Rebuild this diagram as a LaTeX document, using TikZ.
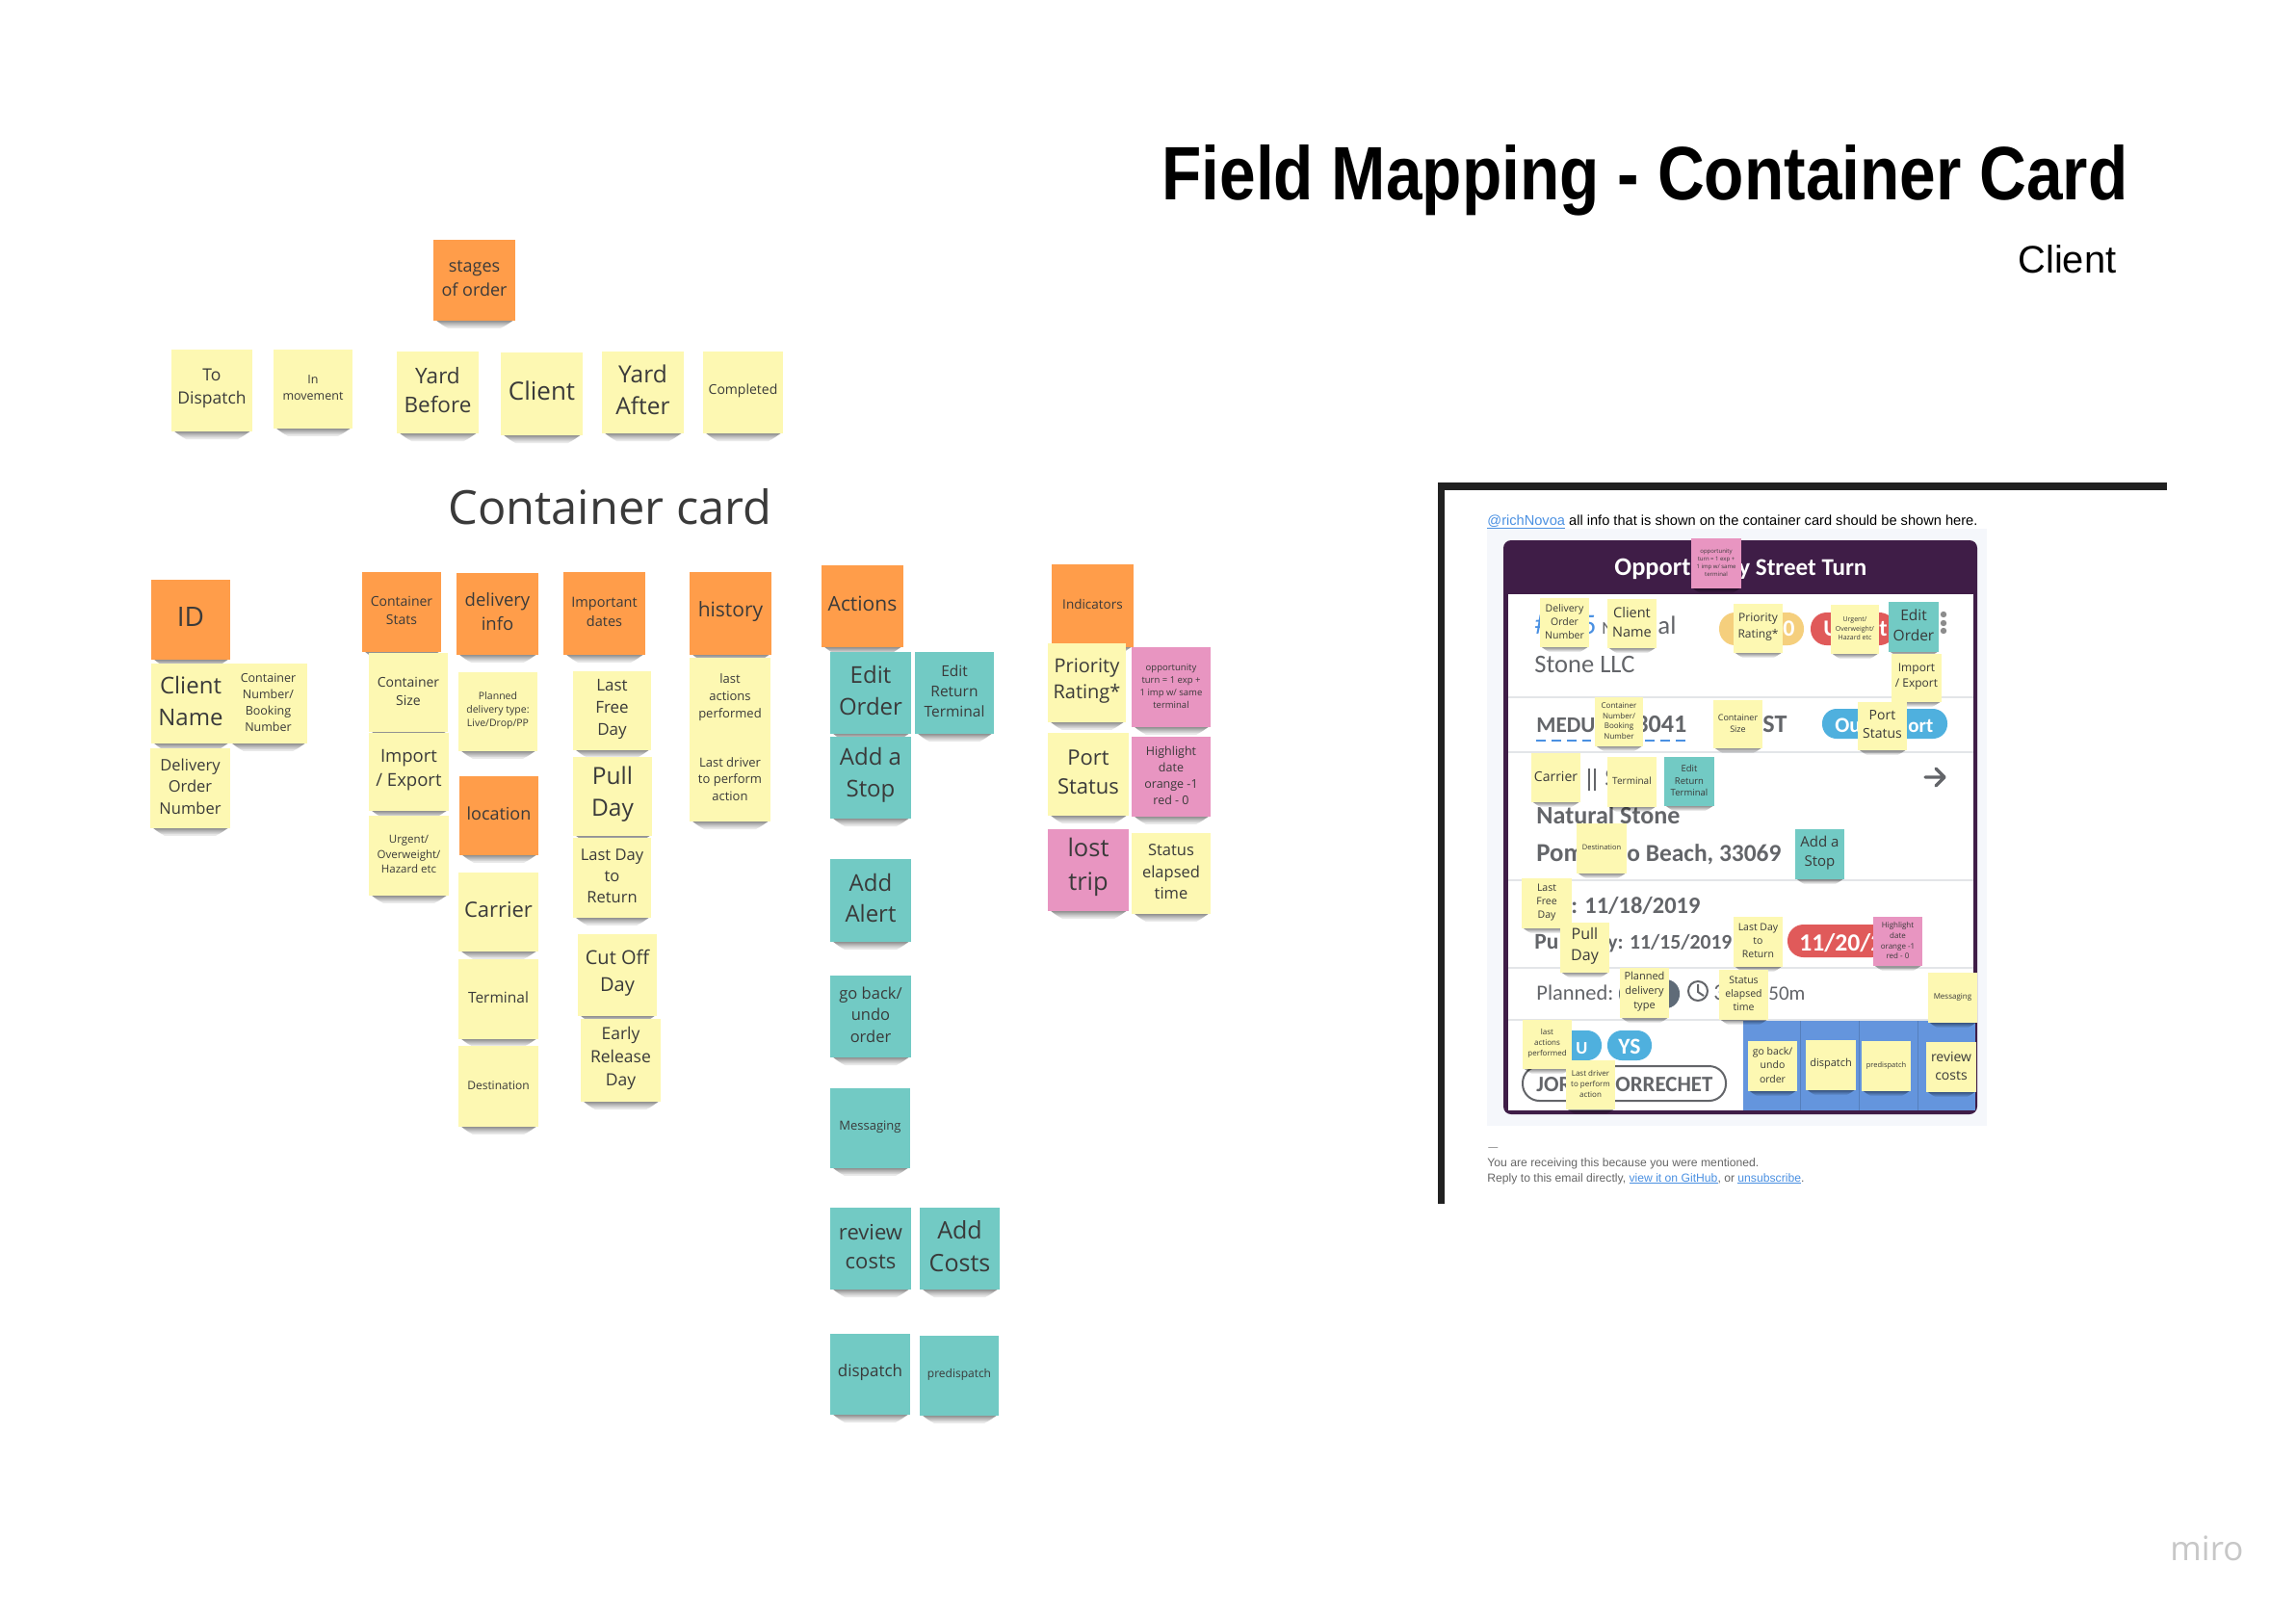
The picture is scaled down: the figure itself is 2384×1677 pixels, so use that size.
\documentclass[tikz,border=0pt]{standalone}
\usepackage{fontspec}
\usepackage{graphicx}
\setmainfont{Open Sans}
\newfontfamily\arl{Liberation Sans}
\newfontfamily\csf{Carlito}
\definecolor{yel}{HTML}{FDF8B2}
\definecolor{ora}{HTML}{FF9D4A}
\definecolor{tea}{HTML}{72CAC4}
\definecolor{pnk}{HTML}{E895C1}
\definecolor{inkc}{HTML}{3A3A3A}
\definecolor{purp}{HTML}{3F1D47}
\definecolor{cardg}{HTML}{636569}
\definecolor{panel}{HTML}{F5F7FB}
\definecolor{lnk}{HTML}{4A90E2}
\definecolor{blk}{HTML}{6495DD}
\definecolor{sky}{HTML}{4FB0DE}
\definecolor{redp}{HTML}{E05A5A}
\definecolor{yelp}{HTML}{F5CF7D}
\definecolor{sep}{HTML}{E3E5E8}
\definecolor{darkp}{HTML}{5F6B78}
\newcounter{nc}
\tikzset{
  stickybox/.style={inner sep=0pt},
  stickynote/.style={inner sep=0pt,align=center,text=inkc},
  placed/.style={anchor=base west,inner sep=0pt},
  shadelayer/.style={fill=black,opacity=.085},
}
% x1 x2 y1 y2 fill size text
\newcommand\sk[7]{%
  \pgfmathsetmacro\cxx{(#1+#2)/2}\pgfmathsetmacro\cyy{(#3+#4)/2}%
  \pgfmathsetmacro\ww{(#2-#1)}\pgfmathsetmacro\hh{(#4-#3)}%
  \pgfmathsetmacro\fsz{#6*0.5}\pgfmathsetmacro\lsz{#6*0.68}%
  \pgfmathsetmacro\upp{#6*0.055}%
  \foreach \dd/\ii in {.012/.05,.025/.07,.04/.09,.055/.11,.075/.14,.095/.18}{%
    \fill[shadelayer] ({#1+.04*\ww},#4) -- ({#2-.03*\ww},#4) -- ({#2-\ii*\ww},{#4+\dd*\hh}) -- ({#1+\ii*\ww},{#4+\dd*\hh}) -- cycle;}%
  \stepcounter{nc}%
  \node[stickybox,name=note\arabic{nc},fill=#5,minimum width=\ww*0.5pt,minimum height=\hh*0.5pt] at (\cxx,\cyy) {};%
  \node[stickynote,name=label\arabic{nc},font=\fontsize{\fsz pt}{\lsz pt}\selectfont] at ([yshift=\upp pt]note\arabic{nc}.center) {#7};%
}
% x1 x2 baseline colour font text : fitted to width
\newcommand\fitt[6]{%
  \pgfmathsetmacro\ww{(#2-#1)*0.5}%
  \stepcounter{nc}%
  \node[placed,name=text\arabic{nc},text=#4] at (#1,#3) {\resizebox{\ww pt}{!}{\fontsize{20pt}{24pt}\selectfont #5#6}};%
}
% x baseline size colour font text
\newcommand\plc[6]{%
  \pgfmathsetmacro\fsz{#3*0.5}%
  \stepcounter{nc}%
  \node[placed,name=text\arabic{nc},text=#4,font=\fontsize{\fsz pt}{\fsz pt}\selectfont #5] at (#1,#2) {#6};%
}
\begin{document}
\begin{tikzpicture}[x=0.5pt,y=-0.5pt]
\useasboundingbox (0,0) rectangle (2384,1677);
\fill[white] (0,0) rectangle (2384,1677);

% titles
\stepcounter{nc}
\node[placed,name=title] at (1206,207) {\resizebox{501.5pt}{28.5pt}{\fontsize{20pt}{24pt}\selectfont\arl\bfseries Field Mapping - Container Card}};
\fitt{2095}{2197}{283}{black}{\arl}{Client}
\fitt{465}{801}{544}{inkc}{}{Container card}
\fitt{2253}{2329}{1620}{black!22}{}{miro}

% top row
\sk{450}{535}{249}{333}{ora}{18}{stages\\of order}
\sk{178}{262}{363}{448}{yel}{17.5}{To\\Dispatch}
\sk{284}{366}{363}{445}{yel}{12.5}{In\\movement}
\sk{412}{497}{365}{450}{yel}{22.5}{Yard\\Before}
\sk{520}{605}{366}{452}{yel}{26}{Client}
\sk{625}{710}{365}{450}{yel}{24.5}{Yard\\After}
\sk{730}{813}{365}{450}{yel}{14}{Completed}

% ID column
\sk{157}{239}{602}{685}{ora}{28}{ID}
\sk{157}{239}{689}{772}{yel}{24}{Client\\Name}
\sk{238}{319}{689}{772}{yel}{12.5}{Container\\Number/\\Booking\\Number}
\sk{156}{239}{777}{860}{yel}{16.5}{Delivery\\Order\\Number}

% container stats
\sk{376}{458}{594}{677}{ora}{14}{Container\\Stats}
\sk{383}{465}{678}{760}{yel}{14}{Container\\Size}
\sk{383}{466}{761}{842}{yel}{18.5}{Import\\/ Export}
\sk{383}{466}{847}{930}{yel}{11.5}{Urgent/\\Overweight/\\Hazard etc}

% delivery info
\sk{474}{559}{595}{680}{ora}{18.5}{delivery\\info}
\sk{476}{558}{698}{780}{yel}{10.5}{Planned\\delivery type:\\Live/Drop/PP}
\sk{477}{559}{806}{888}{ora}{18}{location}
\sk{476}{559}{906}{988}{yel}{22}{Carrier}
\sk{476}{559}{996}{1079}{yel}{15.5}{Terminal}
\sk{476}{559}{1086}{1170}{yel}{12}{Destination}

% dates
\sk{585}{670}{594}{680}{ora}{14.5}{Important\\dates}
\sk{595}{676}{697}{779}{yel}{17}{Last\\Free\\Day}
\sk{595}{677}{786}{868}{yel}{24.5}{Pull\\Day}
\sk{595}{676}{870}{953}{yel}{16.5}{Last Day\\to\\Return}
\sk{600}{682}{970}{1055}{yel}{20}{Cut Off\\Day}
\sk{603}{686}{1058}{1144}{yel}{17.5}{Early\\Release\\Day}

% history
\sk{716}{801}{594}{680}{ora}{21}{history}
\sk{716}{800}{683}{768}{yel}{13}{last\\actions\\performed}
\sk{716}{800}{768}{853}{yel}{13}{Last driver\\to perform\\action}

% actions
\sk{853}{938}{587}{672}{ora}{21}{Actions}
\sk{862}{946}{677}{762}{tea}{24}{Edit\\Order}
\sk{950}{1032}{677}{762}{tea}{15.5}{Edit\\Return\\Terminal}
\sk{862}{946}{765}{850}{tea}{24}{Add a\\Stop}
\sk{862}{946}{892}{978}{tea}{24}{Add\\Alert}
\sk{862}{946}{1013}{1098}{tea}{16.5}{go back/\\undo\\order}
\sk{862}{945}{1130}{1213}{tea}{13}{Messaging}
\sk{862}{946}{1254}{1339}{tea}{22}{review\\costs}
\sk{955}{1038}{1254}{1339}{tea}{25}{Add\\Costs}
\sk{862}{945}{1385}{1469}{tea}{17}{dispatch}
\sk{955}{1037}{1387}{1470}{tea}{12}{predispatch}

% indicators
\sk{1092}{1177}{586}{672}{ora}{13.5}{Indicators}
\sk{1088}{1169}{668}{750}{yel}{20}{Priority\\Rating*}
\sk{1175}{1257}{672}{755}{pnk}{9.5}{opportunity\\turn = 1 exp +\\1 imp w/ same\\terminal}
\sk{1088}{1172}{761}{847}{yel}{22}{Port\\Status}
\sk{1175}{1257}{765}{848}{pnk}{12.5}{Highlight\\date\\orange -1\\red - 0}
\sk{1088}{1172}{861}{946}{pnk}{25.5}{lost\\trip}
\sk{1175}{1257}{865}{949}{yel}{16.5}{Status\\elapsed\\time}

% ---------- screenshot ----------
\fill[black!87] (1493,501) rectangle (2250,509);
\fill[black!87] (1493,501) rectangle (1500,1250);
\fitt{1544}{2053}{545}{black}{\arl}{\textcolor{lnk}{\underline{@richNovoa}} all info that is shown on the container card should be shown here.}
\fill[panel] (1544,549) rectangle (2063,1169);
\fill[purp,rounded corners=4pt] (1561,561) rectangle (2053,1157);
\fill[white] (1566,617) rectangle (2049,1153);
% separators
\foreach \yy in {724,781,914,1005,1059}{\fill[sep] (1566,\yy-1) rectangle (2049,\yy+1);}
% blue action block
\fill[blk] (1810,1060) rectangle (2051,1153);
\foreach \xx in {1869,1930,1991}{\draw[blk!85!black,line width=0.5pt] (\xx,1060) -- (\xx,1153);}
% header
\fitt{1676}{1755}{597}{white}{\csf\bfseries}{Opport}
\fitt{1805}{1938}{597}{white}{\csf\bfseries}{y Street Turn}
% row 1
\plc{1593}{658}{30}{lnk}{\csf}{\#}
\plc{1642}{658}{30}{lnk}{\csf}{5}
\fitt{1663}{1675}{658}{cardg}{\csf}{N}
\fitt{1721}{1740}{658}{cardg}{\csf}{al}
\fitt{1593}{1697}{698}{cardg}{\csf}{Stone LLC}
\fill[yelp,rounded corners=8.3pt] (1785,636) rectangle (1873,670);
\plc{1851}{660}{24}{white}{\csf\bfseries}{0}
\fill[redp,rounded corners=8.3pt] (1880,636) rectangle (1968,670);
\plc{1893}{660}{24}{white}{\csf\bfseries}{U}
\plc{1951}{660}{24}{white}{\csf\bfseries}{t}
\foreach \yy in {638,647,655}{\fill[black!45] (2018,\yy) circle (3.2);}
% row 2
\fitt{1595}{1656}{760}{cardg}{\csf\bfseries}{MEDU}
\fitt{1698}{1751}{760}{cardg}{\csf\bfseries}{3041}
\fitt{1830}{1855}{760}{cardg}{\csf\bfseries}{ST}
\draw[lnk,line width=1.2pt,dash pattern=on 5pt off 3pt] (1595,769) -- (1652,769);
\draw[lnk,line width=1.2pt,dash pattern=on 5pt off 3pt] (1708,769) -- (1751,769);
\fill[sky,rounded corners=7.5pt] (1892,736) rectangle (2022,767);
\fitt{1905}{1932}{760}{white}{\csf\bfseries}{Ou}
\fitt{1981}{2007}{760}{white}{\csf\bfseries}{ort}
% row 3
\draw[cardg,line width=0.9pt] (1650,798) -- (1650,821) (1656,798) -- (1656,821);
\plc{1666}{816}{27}{cardg}{\csf}{S}
\draw[cardg,line width=1.7pt,line cap=round,line join=round] (1999,807) -- (2019,807) (2010,798) -- (2019,807) -- (2010,816);
\fitt{1595}{1744}{855}{cardg}{\csf\bfseries}{Natural Stone}
\fitt{1595}{1645}{894}{cardg}{\csf\bfseries}{Pom}
\fitt{1689}{1849}{894}{cardg}{\csf\bfseries}{o Beach, 33069}
% dates
\fitt{1631}{1765}{948}{cardg}{\csf\bfseries}{: 11/18/2019}
\fitt{1593}{1618}{985}{cardg}{\csf\bfseries}{Pu}
\fitt{1669}{1798}{985}{cardg}{\csf\bfseries}{y: 11/15/2019}
\fill[redp,rounded corners=8.3pt] (1856,960) rectangle (1960,994);
\fitt{1868}{1955}{987}{white}{\csf\bfseries}{11/20/2}
% planned
\fitt{1595}{1675}{1038}{cardg}{\csf}{Planned:}
\fill[darkp,rounded corners=7.3pt] (1681,1017) rectangle (1744,1047);
\draw[cardg,line width=1pt] (1763,1029) circle (10);
\draw[cardg,line width=1pt] (1763,1022) -- (1763,1030) -- (1769,1034);
\plc{1779}{1038}{24}{cardg}{\csf}{3}
\fitt{1836}{1874}{1038}{cardg}{\csf}{50m}
% people
\fill[sky,rounded corners=7.5pt] (1618,1070) rectangle (1663,1101);
\fill[sky,rounded corners=7.5pt] (1669,1070) rectangle (1715,1101);
\fitt{1636}{1648}{1094}{white}{\csf\bfseries}{U}
\fitt{1680}{1703}{1094}{white}{\csf\bfseries}{YS}
\draw[cardg,line width=1pt,rounded corners=8.7pt] (1581,1107) rectangle (1792,1143);
\fitt{1595}{1631}{1133}{cardg}{\csf\bfseries}{JOR}
\fitt{1677}{1778}{1133}{cardg}{\csf\bfseries}{ORRECHET}
% footer
\fitt{1545}{1555}{1194}{black!55}{\arl}{—}
\fitt{1544}{1826}{1211}{black!60}{\arl}{You are receiving this because you were mentioned.}
\fitt{1544}{1873}{1227}{black!60}{\arl}{Reply to this email directly, \textcolor{lnk}{\underline{view it on GitHub}}, or \textcolor{lnk}{\underline{unsubscribe}}.}

% stickies on the screenshot
\sk{1756}{1808}{559}{611}{pnk}{6}{opportunity\\turn = 1 exp +\\1 imp w/ same\\terminal}
\sk{1599}{1650}{621}{672}{yel}{10.5}{Delivery\\Order\\Number}
\sk{1669}{1720}{622}{673}{yel}{14.5}{Client\\Name}
\sk{1800}{1851}{627}{678}{yel}{12}{Priority\\Rating*}
\sk{1901}{1951}{628}{679}{yel}{7}{Urgent/\\Overweight/\\Hazard etc}
\sk{1961}{2013}{625}{677}{tea}{15.5}{Edit\\Order}
\sk{1964}{2016}{679}{729}{yel}{12}{Import\\/ Export}
\sk{1656}{1706}{724}{775}{yel}{8}{Container\\Number/\\Booking\\Number}
\sk{1779}{1830}{727}{777}{yel}{9}{Container\\Size}
\sk{1929}{1980}{729}{779}{yel}{14}{Port\\Status}
\sk{1590}{1641}{782}{833}{yel}{14}{Carrier}
\sk{1669}{1720}{786}{838}{yel}{10}{Terminal}
\sk{1728}{1780}{786}{837}{tea}{9.5}{Edit\\Return\\Terminal}
\sk{1637}{1689}{855}{907}{yel}{7.5}{Destination}
\sk{1864}{1915}{861}{913}{tea}{15}{Add a\\Stop}
\sk{1580}{1632}{912}{964}{yel}{10.5}{Last\\Free\\Day}
\sk{1620}{1671}{958}{1010}{yel}{16}{Pull\\Day}
\sk{1800}{1851}{952}{1004}{yel}{10.5}{Last Day\\to\\Return}
\sk{1945}{1996}{952}{1003}{pnk}{8}{Highlight\\date\\orange -1\\red - 0}
\sk{1682}{1733}{1005}{1057}{yel}{11}{Planned\\delivery\\type}
\sk{1785}{1836}{1007}{1059}{yel}{10.5}{Status\\elapsed\\time}
\sk{2002}{2053}{1010}{1062}{yel}{8}{Messaging}
\sk{1581}{1632}{1059}{1110}{yel}{8}{last\\actions\\performed}
\sk{1626}{1677}{1101}{1152}{yel}{8}{Last driver\\to perform\\action}
\sk{1815}{1866}{1081}{1133}{yel}{10.5}{go back/\\undo\\order}
\sk{1875}{1927}{1080}{1132}{yel}{11}{dispatch}
\sk{1933}{1984}{1081}{1133}{yel}{7.5}{predispatch}
\sk{2000}{2052}{1082}{1134}{yel}{14}{review\\costs}
\end{tikzpicture}
\end{document}
